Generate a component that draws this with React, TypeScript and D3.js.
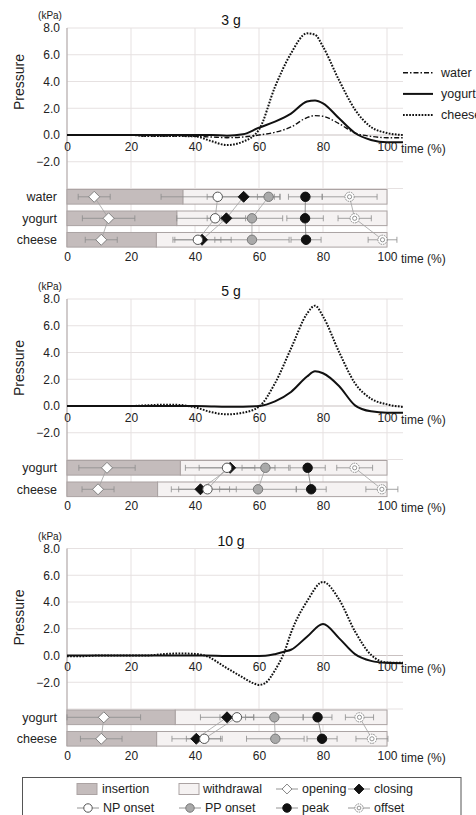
import React, { useEffect, useRef } from "react";
import * as d3 from "d3";

// time grids (% of swallow)
const timeA = [0, 5, 10, 15, 20, 25, 30, 35, 40, 45, 50, 55, 60, 65, 70, 75, 77.5, 80, 85, 90, 95, 100, 105];
const timeB = [0, 5, 10, 15, 20, 25, 30, 35, 40, 43, 50, 55, 58, 60, 62, 65, 68, 70, 75, 80, 85, 90, 95, 100, 105];

// pressure curves (kPa)
const water3 = [0, 0, 0, 0, 0, -0.08, -0.08, -0.08, -0.1, -0.15, -0.2, -0.15, 0, 0.2, 0.6, 1.3, 1.45, 1.4, 0.85, 0.15, -0.1, -0.2, -0.2];
const yogurt3 = [0, 0, 0, 0, 0, 0, 0, 0, 0, 0, -0.05, 0.05, 0.55, 1.0, 1.6, 2.5, 2.58, 2.37, 1.25, 0.15, -0.37, -0.55, -0.55];
const cheese3 = [0, 0, 0, 0, 0, -0.08, -0.08, -0.08, -0.1, -0.45, -0.75, -0.5, 0.4, 3.6, 6.1, 7.6, 7.5, 6.6, 4.1, 1.9, 0.6, 0.15, 0];
const yogurt5 = [0, 0, 0, 0, 0, 0, 0, 0, 0, -0.03, -0.05, -0.05, 0, 0.35, 1.05, 2.2, 2.6, 2.45, 1.5, 0.05, -0.4, -0.5, -0.5];
const cheese5 = [0, 0, 0, 0, 0, 0.05, 0.1, 0.08, -0.1, -0.45, -0.62, -0.5, -0.05, 1.7, 4.3, 6.9, 7.5, 6.7, 4.05, 1.7, 0.55, 0.12, -0.07];
const yogurt10 = [0, 0, 0, 0, 0, 0, 0, 0, 0, 0, -0.03, -0.03, -0.03, -0.03, -0.02, 0.1, 0.3, 0.43, 1.4, 2.35, 1.3, 0.1, -0.4, -0.55, -0.58];
const cheese10 = [-0.05, -0.05, 0, 0, 0, 0, 0.1, 0.15, 0.12, 0, -0.95, -1.65, -2.05, -2.2, -2.05, -1.1, 0.3, 1.7, 4.05, 5.5, 4.2, 1.8, 0.05, -0.52, -0.55];

// events, [mean, sd] in this order
const eventNames = ["opening", "closing", "NP onset", "PP onset", "peak", "offset"];
const ev3Water = [[8.5, 5], [55.2, 11.4], [47.1, 17.7], [63, 3.5], [74.5, 5.3], [88.3, 8.6]];
const ev3Yogurt = [[13, 8.2], [49.8, 6], [46.3, 12], [57.8, 9.6], [74.4, 5.7], [89.9, 5.2]];
const ev3Cheese = [[10.7, 5], [42.2, 9.1], [40.9, 7.2], [57.8, 11.6], [74.7, 4.7], [98.6, 4.5]];
const ev5Yogurt = [[12.5, 8.8], [51, 14], [50, 8.7], [62, 7.3], [75.2, 5.5], [89.9, 5.6]];
const ev5Cheese = [[9.7, 5], [41.7, 9.1], [43.9, 9], [59.7, 12], [76.3, 4.7], [98.4, 5]];
const ev10Yogurt = [[11.5, 11.5], [50, 8.3], [53.1, 5.3], [64.8, 9], [78.3, 4.5], [91.4, 4.4]];
const ev10Cheese = [[10.7, 6.5], [40.4, 7.6], [42.9, 5.6], [65.1, 9], [79.7, 4.7], [95.3, 5]];

// end of insertion phase (%)
const insertion3 = [36.2, 34.3, 27.9];
const insertion5 = [35.4, 28.3];
const insertion10 = [33.8, 28.0];

const yTicks = [8, 6, 4, 2, 0, -2];
const gridY = [8, 6, 4, 2, 0, -2, -4];
const xTicks = [0, 20, 40, 60, 80, 100];

const FONT = "Liberation Sans, Arial, sans-serif";
const INS_FILL = "#c4bcbc";
const WD_FILL = "#f5f2f2";
const BAR_STROKE = "#aba3a3";

const lineStyle: Record<string, { w: number; dash: string | null }> = {
	water: { w: 1.4, dash: "5,2,1.5,2" },
	yogurt: { w: 2, dash: null },
	cheese: { w: 2, dash: "1.7,1.4" },
};

const panels = [
	{
		title: "3 g", top: 28, pressY: 54, legend: true,
		rows: ["water", "yogurt", "cheese"], insertion: insertion3, events: [ev3Water, ev3Yogurt, ev3Cheese],
		series: [{ name: "water", t: timeA, v: water3 }, { name: "cheese", t: timeA, v: cheese3 }, { name: "yogurt", t: timeA, v: yogurt3 }],
	},
	{
		title: "5 g", top: 299, pressY: 69, legend: false,
		rows: ["yogurt", "cheese"], insertion: insertion5, events: [ev5Yogurt, ev5Cheese],
		series: [{ name: "cheese", t: timeA, v: cheese5 }, { name: "yogurt", t: timeA, v: yogurt5 }],
	},
	{
		title: "10 g", top: 548.5, pressY: 69, legend: false,
		rows: ["yogurt", "cheese"], insertion: insertion10, events: [ev10Yogurt, ev10Cheese],
		series: [{ name: "cheese", t: timeB, v: cheese10 }, { name: "yogurt", t: timeB, v: yogurt10 }],
	},
];

const drawMarker = (g: any, type: string, cx: number, cy: number, s = 1) => {
	if (type === "opening" || type === "closing") {
		const r = 5.5 * s;
		g.append("path")
			.attr("d", `M${cx},${cy - r}L${cx + r},${cy}L${cx},${cy + r}L${cx - r},${cy}Z`)
			.attr("fill", type === "opening" ? "#fff" : "#111")
			.attr("stroke", type === "opening" ? "#777" : "#111")
			.attr("stroke-width", 0.9);
	} else if (type === "offset") {
		g.append("circle").attr("cx", cx).attr("cy", cy).attr("r", 4.6 * s)
			.attr("fill", "#fff").attr("stroke", "#888").attr("stroke-width", 1).attr("stroke-dasharray", "1.6,0.9");
		g.append("circle").attr("cx", cx).attr("cy", cy).attr("r", 2.1 * s)
			.attr("fill", "none").attr("stroke", "#888").attr("stroke-width", 0.9);
	} else {
		const fill = type === "NP onset" ? "#fff" : type === "PP onset" ? "#a9a9a9" : "#111";
		const stroke = type === "NP onset" ? "#555" : type === "PP onset" ? "#7a7a7a" : "#111";
		g.append("circle").attr("cx", cx).attr("cy", cy).attr("r", 4.7 * s)
			.attr("fill", fill).attr("stroke", stroke).attr("stroke-width", 1);
	}
};

const styleAxis = (ax: any, size = 12) => {
	ax.select(".domain").remove();
	ax.attr("font-family", FONT).attr("font-size", size).attr("color", "#222");
};

const App: React.FC = () => {
	const ref = useRef<SVGSVGElement>(null);

	useEffect(() => {
		const svg = d3.select(ref.current);
		svg.selectAll("*").remove();

		const x = d3.scaleLinear().domain([0, 100]).range([67, 387]);

		panels.forEach((p) => {
			const y = d3.scaleLinear().domain([-4, 8]).range([p.top + 160.5, p.top]);
			const y0 = y(-4);
			const n = p.rows.length;
			const band = d3.scaleBand().domain(p.rows).range([y0 + 1, y0 + 1 + n * 21.5 - 6.9]).paddingInner(0.32);
			const bw = band.bandwidth();
			const bottom = (band(p.rows[n - 1]) || 0) + bw;
			const g = svg.append("g");

			// grid
			g.selectAll(".hg").data(gridY).enter().append("line")
				.attr("x1", x(0)).attr("x2", x(105))
				.attr("y1", (d) => y(d)).attr("y2", (d) => y(d))
				.attr("stroke", (d) => (d === 0 ? "#c9c1c1" : "#e6e1e1")).attr("stroke-width", 1);
			g.selectAll(".vg").data(xTicks.slice(1)).enter().append("line")
				.attr("x1", (d) => x(d)).attr("x2", (d) => x(d))
				.attr("y1", y(8)).attr("y2", bottom)
				.attr("stroke", "#e6e1e1").attr("stroke-width", 1);
			g.append("line").attr("x1", x(0)).attr("x2", x(0)).attr("y1", y(8)).attr("y2", bottom)
				.attr("stroke", "#bdb5b5").attr("stroke-width", 1.4);

			// y axis
			const yAx = g.append("g").attr("transform", `translate(${x(0)},0)`)
				.call(d3.axisLeft(y).tickValues(yTicks).tickFormat(d3.format(".1f")).tickSize(0).tickPadding(7) as any);
			styleAxis(yAx);

			// top time axis
			const tAx = g.append("g").attr("transform", `translate(0,${y(0)})`)
				.call(d3.axisBottom(x).tickValues(xTicks).tickSize(0).tickPadding(7) as any);
			styleAxis(tAx);
			g.append("text").attr("x", x(100) + 14).attr("y", y(0) + 17.5).attr("font-family", FONT)
				.attr("font-size", 12).attr("fill", "#222").text("time (%)");

			// titles
			g.append("text").attr("x", 231).attr("y", p.top - 3).attr("text-anchor", "middle")
				.attr("font-family", FONT).attr("font-size", 14).attr("fill", "#111").text(p.title);
			g.append("text").attr("x", 50).attr("y", p.top - 9).attr("text-anchor", "middle")
				.attr("font-family", FONT).attr("font-size", 10).attr("fill", "#222").text("(kPa)");
			g.append("text").attr("transform", `translate(24,${p.top + p.pressY}) rotate(-90)`).attr("text-anchor", "middle")
				.attr("font-family", FONT).attr("font-size", 14).attr("fill", "#222").text("Pressure");

			// bars
			p.rows.forEach((r, i) => {
				const by = band(r) || 0;
				g.append("rect").attr("x", x(p.insertion[i])).attr("y", by).attr("width", x(100) - x(p.insertion[i])).attr("height", bw)
					.attr("fill", WD_FILL).attr("stroke", BAR_STROKE).attr("stroke-width", 1);
				g.append("rect").attr("x", x(0)).attr("y", by).attr("width", x(p.insertion[i]) - x(0)).attr("height", bw)
					.attr("fill", INS_FILL).attr("stroke", BAR_STROKE).attr("stroke-width", 1);
				g.append("text").attr("x", 57).attr("y", by + bw / 2).attr("dy", "0.35em").attr("text-anchor", "end")
					.attr("font-family", FONT).attr("font-size", 12.5).attr("fill", "#222").text(r);
			});

			// bottom axis
			const bAx = g.append("g").attr("transform", `translate(0,${bottom})`)
				.call(d3.axisBottom(x).tickValues(xTicks).tickSize(0).tickPadding(5) as any);
			styleAxis(bAx);
			g.append("text").attr("x", x(100) + 14).attr("y", bottom + 15.5).attr("font-family", FONT)
				.attr("font-size", 12).attr("fill", "#222").text("time (%)");

			// error bars
			p.rows.forEach((r, i) => {
				const cy = (band(r) || 0) + bw / 2;
				p.events[i].forEach(([m, sd]) => {
					const xl = x(Math.max(0, m - sd));
					const xr = x(m + sd);
					g.append("line").attr("x1", xl).attr("x2", xr).attr("y1", cy).attr("y2", cy).attr("stroke", "#8c8c8c").attr("stroke-width", 0.8);
					[xl, xr].forEach((xx) => {
						g.append("line").attr("x1", xx).attr("x2", xx).attr("y1", cy - 3).attr("y2", cy + 3).attr("stroke", "#8c8c8c").attr("stroke-width", 0.8);
					});
				});
			});

			// connections between rows
			eventNames.forEach((_, k) => {
				for (let i = 0; i < n - 1; i++) {
					g.append("line")
						.attr("x1", x(p.events[i][k][0])).attr("y1", (band(p.rows[i]) || 0) + bw / 2)
						.attr("x2", x(p.events[i + 1][k][0])).attr("y2", (band(p.rows[i + 1]) || 0) + bw / 2)
						.attr("stroke", k === 4 ? "#777" : "#a0a0a0").attr("stroke-width", 0.8);
				}
			});

			// markers
			p.rows.forEach((r, i) => {
				const cy = (band(r) || 0) + bw / 2;
				eventNames.forEach((e, k) => drawMarker(g, e, x(p.events[i][k][0]), cy));
			});

			// curves
			p.series.forEach((s) => {
				const st = lineStyle[s.name];
				const line = d3.line<number>().x((_, j) => x(s.t[j])).y((d) => y(d)).curve(d3.curveMonotoneX);
				g.append("path").attr("d", line(s.v)).attr("fill", "none").attr("stroke", "#111")
					.attr("stroke-width", st.w).attr("stroke-dasharray", st.dash);
			});

			// series legend
			if (p.legend) {
				["water", "yogurt", "cheese"].forEach((name, i) => {
					const ly = p.top + 44.7 + i * 21.2;
					const st = lineStyle[name];
					g.append("line").attr("x1", 403).attr("x2", 433).attr("y1", ly).attr("y2", ly).attr("stroke", "#111")
						.attr("stroke-width", st.w).attr("stroke-dasharray", st.dash);
					g.append("text").attr("x", 441).attr("y", ly).attr("dy", "0.35em").attr("font-family", FONT)
						.attr("font-size", 12.5).attr("fill", "#222").text(name);
				});
			}
		});

		// bottom legend
		const lg = svg.append("g");
		lg.append("rect").attr("x", 22.5).attr("y", 777.5).attr("width", 438.5).attr("height", 60)
			.attr("fill", "#fff").attr("stroke", "#555").attr("stroke-width", 1);
		const cols = [77, 179, 276, 348];
		const row1 = 789;
		const row2 = 808;
		const addText = (tx: number, ty: number, label: string) =>
			lg.append("text").attr("x", tx).attr("y", ty).attr("dy", "0.35em").attr("font-family", FONT)
				.attr("font-size", 12.5).attr("fill", "#222").text(label);
		lg.append("rect").attr("x", cols[0]).attr("y", row1 - 5.5).attr("width", 20).attr("height", 11).attr("fill", INS_FILL).attr("stroke", BAR_STROKE);
		addText(cols[0] + 25, row1, "insertion");
		lg.append("rect").attr("x", cols[1]).attr("y", row1 - 5.5).attr("width", 20).attr("height", 11).attr("fill", WD_FILL).attr("stroke", BAR_STROKE);
		addText(cols[1] + 24, row1, "withdrawal");
		const markerItems = [
			{ name: "opening", c: 2, ry: row1 },
			{ name: "closing", c: 3, ry: row1 },
			{ name: "NP onset", c: 0, ry: row2 },
			{ name: "PP onset", c: 1, ry: row2 },
			{ name: "peak", c: 2, ry: row2 },
			{ name: "offset", c: 3, ry: row2 },
		];
		markerItems.forEach((m) => {
			const x0 = cols[m.c];
			lg.append("line").attr("x1", x0).attr("x2", x0 + 22).attr("y1", m.ry).attr("y2", m.ry).attr("stroke", "#888").attr("stroke-width", 0.9);
			drawMarker(lg, m.name, x0 + 11, m.ry, 0.9);
			addText(x0 + 26, m.ry, m.name);
		});
	}, []);

	return <svg ref={ref} width={476} height={815} style={{ position: "absolute", left: 0, top: 0, background: "#fff" }} />;
};

export default App;
